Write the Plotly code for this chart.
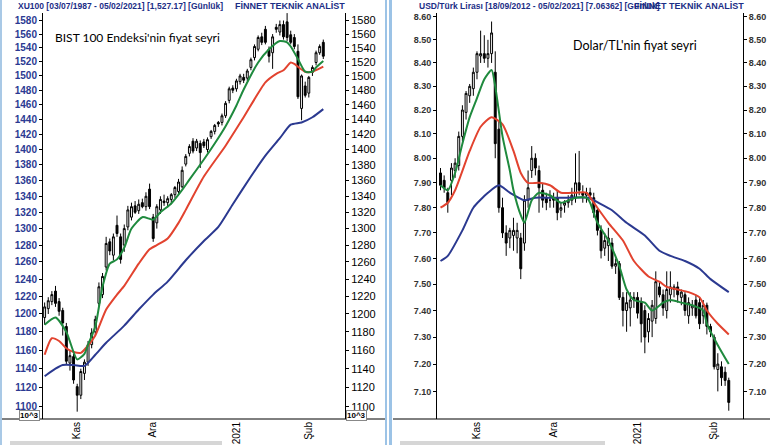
import math
import plotly.graph_objects as go
import pandas as pd

# ---------------- data ----------------
bist_dates = [d.strftime('%Y-%m-%d') for d in pd.bdate_range('2020-10-19', '2021-02-05')
              if d.strftime('%Y-%m-%d') not in ('2020-10-29', '2021-01-01')]
usd_dates = [d.strftime('%Y-%m-%d') for d in pd.bdate_range('2020-10-19', '2021-02-05')]

bist_open = [1196,1206,1214,1226,1214,1204,1186,1146,1153,1121,1112,1135,1147,1166,1180,1212,1222,1254,1284,1268,
             1304,1290,1280,1302,1314,1328,1322,1332,1327,1349,1314,1307,1323,1334,1332,1336,1342,1346,1352,1381,
             1395,1411,1402,1408,1410,1400,1417,1424,1436,1436,1445,1466,1483,1482,1492,1498,1497,1512,1526,1538,
             1556,1567,1538,1533,1570,1563,1574,1578,1559,1555,1535,1455,1486,1476,1505,1519,1533,1548]
bist_high = [1213,1219,1226,1232,1218,1207,1190,1160,1156,1124,1140,1150,1170,1184,1198,1236,1247,1290,1288,1294,
             1316,1294,1305,1328,1332,1334,1336,1337,1345,1356,1318,1330,1340,1342,1340,1344,1353,1362,1378,1394,
             1407,1415,1414,1412,1414,1416,1426,1434,1438,1448,1465,1485,1487,1496,1503,1503,1510,1526,1545,1558,
             1562,1572,1542,1560,1575,1580,1580,1591,1565,1560,1545,1502,1492,1500,1515,1536,1545,1552]
bist_low = [1188,1200,1210,1208,1198,1176,1144,1138,1124,1095,1108,1128,1143,1162,1176,1208,1218,1250,1268,1262,
            1290,1258,1272,1298,1310,1318,1318,1325,1322,1324,1284,1300,1318,1328,1326,1330,1338,1343,1350,1378,
            1391,1395,1398,1376,1402,1396,1414,1420,1430,1432,1442,1462,1476,1478,1488,1490,1493,1508,1522,1535,
            1544,1545,1519,1510,1562,1558,1552,1550,1545,1538,1468,1439,1470,1470,1500,1515,1530,1524]
bist_close = [1208,1215,1222,1212,1203,1190,1148,1154,1128,1112,1137,1147,1166,1179,1194,1231,1243,1282,1273,1290,
              1294,1263,1300,1323,1327,1320,1330,1327,1340,1327,1288,1327,1336,1332,1337,1342,1351,1358,1373,1391,
              1404,1398,1411,1396,1405,1413,1424,1432,1434,1445,1462,1482,1480,1493,1500,1494,1507,1523,1542,1555,
              1548,1548,1528,1556,1567,1574,1556,1555,1548,1542,1471,1500,1473,1498,1512,1533,1542,1528]

# moving averages (day index -> value)
bist_green_idx = [0,3,6,9,11,12,14,16,18,20,22,24,27,29,30,32,35,38,40,44,47,50,53,55,59,62,65,67,68,70,72,74,75,77]
bist_green = [1188,1196,1180,1150,1156,1166,1186,1231,1258,1263,1277,1300,1314,1312,1311,1320,1331,1348,1361,1387,
              1408,1431,1459,1481,1519,1538,1550,1548,1542,1524,1506,1506,1512,1521]
bist_red_idx = [0,2,4,6,8,10,12,14,17,20,22,26,29,31,34,37,39,44,50,55,61,64,66,68,69,70,72,74,77]
bist_red = [1155,1173,1170,1162,1158,1157,1165,1176,1205,1222,1232,1258,1275,1280,1288,1307,1323,1365,1405,1443,
            1491,1503,1508,1519,1517,1513,1506,1506,1513]
bist_blue_idx = [0,3,5,8,11,14,17,22,26,30,34,39,44,48,52,57,61,65,68,71,74,77]
bist_blue = [1132,1140,1144,1144,1143,1155,1168,1187,1205,1222,1237,1262,1285,1302,1330,1365,1392,1415,1433,1436,
             1443,1454]

usd_open = [7.94,7.91,7.86,7.91,7.95,7.97,8.09,8.19,8.26,8.29,8.36,8.43,8.44,8.42,8.44,8.36,8.12,7.80,7.70,7.68,
            7.69,7.68,7.68,7.66,7.83,7.95,8.00,7.95,7.87,7.84,7.83,7.84,7.84,7.79,7.81,7.82,7.83,7.84,7.90,7.86,
            7.85,7.86,7.84,7.79,7.71,7.64,7.65,7.66,7.57,7.58,7.45,7.40,7.41,7.44,7.45,7.43,7.40,7.32,7.36,7.37,
            7.49,7.46,7.40,7.46,7.48,7.49,7.45,7.46,7.38,7.41,7.44,7.43,7.38,7.42,7.34,7.30,7.18,7.19,7.17,7.14]
usd_high = [7.96,7.93,7.88,7.98,8.00,8.11,8.22,8.28,8.31,8.38,8.45,8.54,8.52,8.50,8.58,8.45,8.15,7.84,7.73,7.72,
            7.76,7.74,7.70,7.85,7.95,8.05,8.02,7.97,7.90,7.86,7.87,7.86,7.87,7.82,7.83,7.85,7.88,8.02,8.03,7.89,
            7.88,7.88,7.86,7.80,7.73,7.70,7.72,7.68,7.60,7.59,7.47,7.47,7.47,7.47,7.47,7.45,7.42,7.39,7.44,7.55,
            7.51,7.48,7.55,7.55,7.50,7.51,7.48,7.47,7.45,7.44,7.46,7.45,7.44,7.43,7.35,7.31,7.24,7.21,7.19,7.15]
usd_low = [7.87,7.86,7.78,7.85,7.92,7.95,8.07,8.16,8.23,8.26,8.33,8.40,8.40,8.38,8.40,8.00,7.78,7.68,7.61,7.64,
           7.63,7.62,7.52,7.63,7.80,7.92,7.93,7.78,7.80,7.79,7.80,7.80,7.75,7.76,7.78,7.80,7.81,7.82,7.85,7.82,
           7.82,7.83,7.76,7.69,7.60,7.61,7.59,7.56,7.54,7.44,7.34,7.32,7.34,7.41,7.37,7.28,7.24,7.28,7.30,7.35,
           7.45,7.38,7.37,7.43,7.45,7.43,7.42,7.38,7.35,7.38,7.37,7.33,7.35,7.31,7.30,7.18,7.10,7.12,7.12,7.03]
usd_close = [7.89,7.88,7.82,7.96,7.98,8.09,8.20,8.27,8.30,8.36,8.44,8.44,8.42,8.44,8.53,8.06,7.80,7.70,7.66,7.71,
             7.71,7.71,7.56,7.83,7.88,8.00,7.96,7.88,7.83,7.82,7.83,7.83,7.78,7.80,7.82,7.83,7.85,7.90,7.87,7.85,
             7.86,7.85,7.78,7.71,7.63,7.67,7.68,7.57,7.58,7.45,7.40,7.43,7.44,7.45,7.39,7.35,7.30,7.37,7.42,7.51,
             7.46,7.41,7.48,7.49,7.49,7.46,7.47,7.40,7.43,7.42,7.38,7.35,7.42,7.34,7.32,7.19,7.20,7.15,7.14,7.06]

usd_green_idx = [0,2,4,6,8,10,12,14,15,17,19,20,22,23,25,27,30,33,37,40,41,43,46,49,51,53,56,58,61,63,66,69,72,73,76,79]
usd_green = [7.89,7.87,7.94,8.06,8.17,8.25,8.33,8.37,8.30,8.09,7.95,7.87,7.77,7.74,7.83,7.86,7.85,7.82,7.84,7.84,
             7.82,7.74,7.67,7.57,7.48,7.44,7.43,7.40,7.43,7.44,7.43,7.42,7.40,7.35,7.27,7.20]
usd_red_idx = [0,2,4,8,11,14,17,20,22,24,27,30,33,37,40,42,46,50,53,57,60,62,65,68,71,73,76,79]
usd_red = [7.80,7.82,7.87,8.03,8.13,8.17,8.14,8.03,7.94,7.90,7.90,7.89,7.86,7.86,7.86,7.82,7.74,7.67,7.59,7.53,
           7.51,7.49,7.48,7.47,7.45,7.40,7.35,7.31]
usd_blue_idx = [0,2,6,9,13,16,19,23,26,30,35,41,42,47,51,56,60,63,67,71,74,79]
usd_blue = [7.59,7.61,7.71,7.80,7.86,7.89,7.86,7.83,7.84,7.84,7.84,7.84,7.83,7.79,7.74,7.69,7.63,7.61,7.59,7.56,
            7.52,7.47]

bist_tick_dates = ['2020-11-02', '2020-12-01', '2021-01-04', '2021-02-01']
usd_tick_dates = ['2020-11-02', '2020-12-01', '2021-01-01', '2021-02-01']
month_labels = ['Kas', 'Ara', '2021', 'Şub']
bist_yticks = list(range(1100, 1581, 20))
usd_yticks = [round(7.1 + 0.1 * k, 2) for k in range(16)]

# ---------------- figure ----------------
W, H = 770, 445
GREEN, RED, BLUE = '#1f8a3e', '#e2432f', '#2b3990'
FONT = 'Liberation Sans'


def px(x):
    return x / W


def py(y):
    return 1 - y / H


fig = go.Figure()

candle_style = dict(
    increasing=dict(line=dict(color='black', width=1), fillcolor='white'),
    decreasing=dict(line=dict(color='black', width=1), fillcolor='black'),
    whiskerwidth=0, showlegend=False, hoverinfo='skip')

fig.add_trace(go.Candlestick(x=bist_dates, open=bist_open, high=bist_high, low=bist_low, close=bist_close,
                             xaxis='x', yaxis='y', **candle_style))
for idx, vals, col in [(bist_blue_idx, bist_blue, BLUE), (bist_red_idx, bist_red, RED),
                       (bist_green_idx, bist_green, GREEN)]:
    fig.add_trace(go.Scatter(x=[bist_dates[i] for i in idx], y=vals, mode='lines',
                             line=dict(color=col, width=2, shape='spline', smoothing=0.6),
                             xaxis='x', yaxis='y2', showlegend=False, hoverinfo='skip'))

fig.add_trace(go.Candlestick(x=usd_dates, open=usd_open, high=usd_high, low=usd_low, close=usd_close,
                             xaxis='x2', yaxis='y3', **candle_style))
for idx, vals, col in [(usd_blue_idx, usd_blue, BLUE), (usd_red_idx, usd_red, RED),
                       (usd_green_idx, usd_green, GREEN)]:
    fig.add_trace(go.Scatter(x=[usd_dates[i] for i in idx], y=vals, mode='lines',
                             line=dict(color=col, width=2, shape='spline', smoothing=0.6),
                             xaxis='x2', yaxis='y4', showlegend=False, hoverinfo='skip'))

ydom = [py(419), py(12.5)]
bist_range = [math.log10(1087.5), math.log10(1591.9)]
usd_range = [math.log10(7.0003), math.log10(8.6197)]

xcommon = dict(type='category', tickmode='array', tickangle=-90, showgrid=False, zeroline=False,
               showline=False, ticks='', rangeslider=dict(visible=False), categoryorder='array',
               tickfont=dict(family=FONT, size=10, color='black'))
fig.update_layout(
    xaxis=dict(domain=[px(43), px(345)], range=[-0.45, 83.0], tickvals=bist_tick_dates, ticktext=month_labels,
               categoryarray=bist_dates, anchor='y', **xcommon),
    xaxis2=dict(domain=[px(437), px(743)], range=[-0.96, 82.9], tickvals=usd_tick_dates, ticktext=month_labels,
                categoryarray=usd_dates, anchor='y3', **xcommon),
)

ycommon = dict(type='log', showgrid=False, zeroline=False, showline=True, linecolor='black', linewidth=1,
               ticks='outside', ticklen=3, tickcolor='black', domain=ydom)
fig.update_layout(
    yaxis=dict(range=bist_range, tickvals=bist_yticks, ticktext=[str(v) for v in bist_yticks], side='left',
               anchor='x', tickfont=dict(family=FONT, size=10, color='#2b3a92', weight='bold'), **ycommon),
    yaxis2=dict(range=bist_range, tickvals=bist_yticks, ticktext=[str(v) for v in bist_yticks], side='right',
                overlaying='y', anchor='x', tickfont=dict(family=FONT, size=11, color='black'), **ycommon),
    yaxis3=dict(range=usd_range, tickvals=usd_yticks, ticktext=['%.2f' % v for v in usd_yticks], side='left',
                anchor='x2', tickfont=dict(family=FONT, size=9, color='#333333', weight='bold'), **ycommon),
    yaxis4=dict(range=usd_range, tickvals=usd_yticks, ticktext=['%.2f' % v for v in usd_yticks], side='right',
                overlaying='y3', anchor='x2', tickfont=dict(family=FONT, size=9, color='#333333', weight='bold'),
                **ycommon),
)

TITLE_COLOR = '#1c2e86'
P = dict(xref='paper', yref='paper', showarrow=False, xanchor='center', yanchor='middle')
TF = dict(family=FONT, size=8.5, color=TITLE_COLOR)
TF9 = dict(family=FONT, size=9, color=TITLE_COLOR)
ann = []
ann.append(dict(x=px(120.5), y=py(6), text='<b>XU100 [03/07/1987 - 05/02/2021] [1,527.17] [Günlük]</b>',
                font=TF, **P))
ann.append(dict(x=px(290), y=py(6), text='<b>FİNNET TEKNİK ANALİST</b>', font=TF9, **P))
ann.append(dict(x=px(539), y=py(6), text='<b>USD/Türk Lirası [18/09/2012 - 05/02/2021] [7.06362] [Günlük]</b>',
                font=TF, **P))
ann.append(dict(x=px(689), y=py(6), text='<b>FİNNET TEKNİK ANALİST</b>', font=TF9, **P))
ann.append(dict(x=px(137), y=py(37), text="BIST 100 Endeksi'nin fiyat seyri",
                font=dict(family='Lato', size=12, color='black'), **P))
ann.append(dict(x=px(635), y=py(45), text="Dolar/TL'nin fiyat seyri",
                font=dict(family='Lato', size=12.5, color='black'), **P))
for xc in (29, 356):
    ann.append(dict(x=px(xc), y=py(415), text='<b>10^3</b>',
                    bordercolor='#888888', borderwidth=1, borderpad=0, bgcolor='white',
                    font=dict(family=FONT, size=8, color='black'), **P))
fig.update_layout(annotations=ann)

shapes = []
# bottom lines of both panels
shapes.append(dict(type='line', xref='paper', yref='paper', x0=0, x1=px(385), y0=py(419), y1=py(419),
                   line=dict(color='black', width=1)))
shapes.append(dict(type='line', xref='paper', yref='paper', x0=px(393), x1=1, y0=py(419), y1=py(419),
                   line=dict(color='black', width=1)))
# panel separators
for x0, x1, col in [(0, 2, '#a9c9e6'), (385, 387, '#9cc3e6'), (389, 392, '#9cc3e6')]:
    shapes.append(dict(type='rect', xref='paper', yref='paper', x0=px(x0), x1=px(x1), y0=0, y1=1,
                       line=dict(width=0), fillcolor=col))
# bottom gray bars
for x0, x1 in [(10, 222), (400, 605)]:
    shapes.append(dict(type='rect', xref='paper', yref='paper', x0=px(x0), x1=px(x1), y0=0, y1=py(441),
                       line=dict(width=0), fillcolor='#d6d6d6'))
fig.update_layout(shapes=shapes)

fig.update_layout(width=W, height=H, margin=dict(l=0, r=0, t=0, b=0), autosize=False,
                  paper_bgcolor='white', plot_bgcolor='white', boxgap=0.25, hovermode=False)

fig.write_html('out.html')
